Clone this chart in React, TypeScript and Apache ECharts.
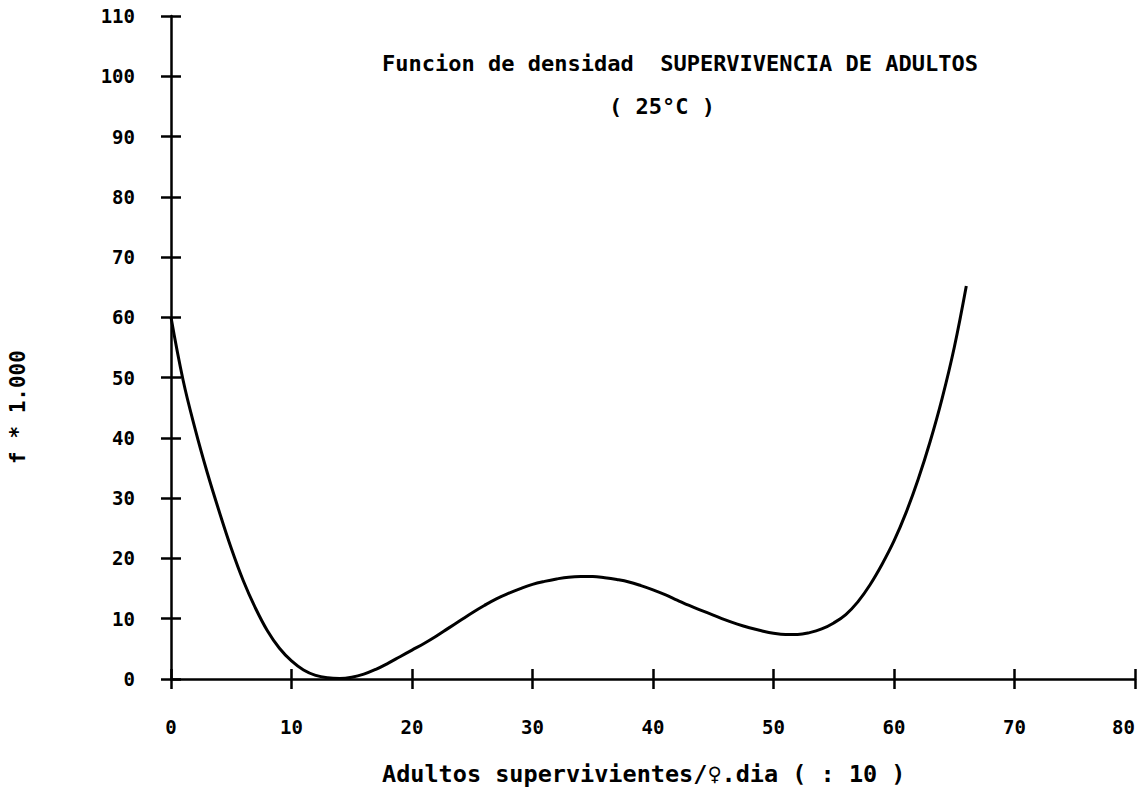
import { useEffect, useRef } from "react";
import * as echarts from "echarts";

const xValues = [
  0, 1, 2, 3, 4, 5, 6, 7, 8, 9, 10, 11, 12, 13, 14, 15, 16, 17, 18, 19, 20,
  21, 22, 23, 24, 25, 26, 27, 28, 29, 30, 31, 32, 33, 34, 35, 36, 37, 38, 39,
  40, 41, 42, 43, 44, 45, 46, 47, 48, 49, 50, 51, 52, 53, 54, 55, 56, 57, 58,
  59, 60, 61, 62, 63, 64, 65, 66,
];
const yValues = [
  60, 49.6, 41.5, 34.3, 27.8, 21.7, 16.3, 11.8, 8.0, 5.1, 3.0, 1.5, 0.6, 0.2,
  0.1, 0.3, 0.8, 1.6, 2.6, 3.7, 4.8, 5.9, 7.1, 8.4, 9.7, 11.0, 12.2, 13.3, 14.2,
  15.0, 15.7, 16.2, 16.6, 16.9, 17.0, 17.0, 16.8, 16.5, 16.1, 15.5, 14.8, 14.0,
  13.1, 12.2, 11.4, 10.6, 9.8, 9.1, 8.5, 8.0, 7.6, 7.4, 7.4, 7.7, 8.3, 9.3,
  10.7, 12.8, 15.6, 19.0, 22.9, 27.6, 33.1, 39.4, 46.6, 55.0, 65.2,
];

const titleText = "Funcion de densidad  SUPERVIVENCIA DE ADULTOS";
const subtitleText = "( 25°C )";
const xAxisName = "Adultos supervivientes/♀.dia ( : 10 )";
const yAxisName = "f * 1.000";

const X_MIN = 0;
const X_MAX = 80;
const X_STEP = 10;
const Y_MIN = 0;
const Y_MAX = 110;
const Y_STEP = 10;

const FONT = "'DejaVu Sans Mono', 'Liberation Mono', monospace";

export default function App() {
  const ref = useRef<HTMLDivElement>(null);

  useEffect(() => {
    if (!ref.current) return;
    const chart = echarts.init(ref.current, undefined, { renderer: "svg" });
    const lineStyle = { color: "#000", width: 2.5 };
    const baseAxis = {
      type: "value" as const,
      splitLine: { show: false },
    };
    chart.setOption({
      animation: false,
      backgroundColor: "#fff",
      grid: {
        left: 171,
        right: 4,
        top: 16,
        bottom: 108,
        containLabel: false,
        outerBoundsMode: "none",
      },
      title: [
        {
          text: titleText,
          left: 377,
          top: 47,
          textStyle: { fontFamily: FONT, fontSize: 22, fontWeight: "bold", color: "#000" },
        },
        {
          text: subtitleText,
          left: 604,
          top: 90,
          textStyle: { fontFamily: FONT, fontSize: 22, fontWeight: "bold", color: "#000" },
        },
        {
          text: xAxisName,
          left: 377,
          top: 757,
          textStyle: { fontFamily: FONT, fontSize: 23.5, fontWeight: "bold", color: "#000" },
        },
      ],
      graphic: [
        {
          type: "text",
          x: 18,
          y: 407,
          rotation: Math.PI / 2,
          style: {
            text: yAxisName,
            fontFamily: FONT,
            fontSize: 21,
            fontWeight: "bold",
            fill: "#000",
            align: "center",
            verticalAlign: "middle",
          },
        },
      ],
      xAxis: [
        {
          ...baseAxis,
          min: X_MIN,
          max: X_MAX,
          interval: X_STEP,
          position: "bottom",
          axisLine: { show: true, onZero: false, lineStyle },
          axisTick: { show: true, inside: false, length: 10, lineStyle },
          axisLabel: {
            show: true,
            margin: 38,
            fontFamily: FONT,
            fontSize: 19,
            fontWeight: "bold",
            color: "#000",
            alignMaxLabel: "right",
          },
        },
        {
          ...baseAxis,
          min: X_MIN,
          max: X_MAX,
          interval: X_STEP,
          position: "bottom",
          axisLine: { show: false },
          axisTick: { show: true, inside: true, length: 10, lineStyle },
          axisLabel: { show: false },
        },
      ],
      yAxis: [
        {
          ...baseAxis,
          min: Y_MIN,
          max: Y_MAX,
          interval: Y_STEP,
          position: "left",
          axisLine: { show: true, onZero: false, lineStyle },
          axisTick: { show: true, inside: false, length: 10, lineStyle },
          axisLabel: {
            show: true,
            margin: 36,
            fontFamily: FONT,
            fontSize: 19,
            fontWeight: "bold",
            color: "#000",
          },
        },
        {
          ...baseAxis,
          min: Y_MIN,
          max: Y_MAX,
          interval: Y_STEP,
          position: "left",
          axisLine: { show: false },
          axisTick: { show: true, inside: true, length: 10, lineStyle },
          axisLabel: { show: false },
        },
      ],
      series: [
        {
          type: "line",
          xAxisIndex: 0,
          yAxisIndex: 0,
          data: xValues.map((x, i) => [x, yValues[i]]),
          smooth: 0.4,
          showSymbol: false,
          symbol: "none",
          lineStyle: { color: "#000", width: 3 },
        },
      ],
    });
    return () => chart.dispose();
  }, []);

  return (
    <div
      ref={ref}
      style={{ position: "fixed", left: 0, top: 0, width: 1139, height: 787, background: "#fff" }}
    />
  );
}
